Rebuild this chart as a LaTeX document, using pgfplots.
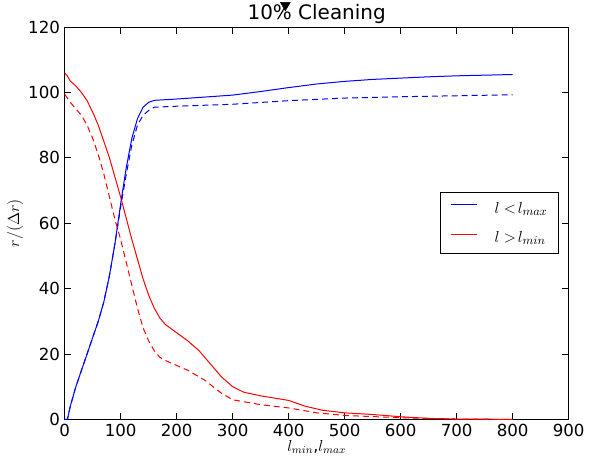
\documentclass[border=0pt]{standalone}
\usepackage{fontspec}
\setmainfont{DejaVu Sans}
\usepackage{pgfplots}
\pgfplotsset{compat=1.18}
\definecolor{myred}{RGB}{255,0,0}
\definecolor{myblue}{RGB}{0,0,255}
\begin{document}
\begin{tikzpicture}
\begin{axis}[
  scale only axis,
  width=378.75pt, height=294.75pt,
  xmin=0, xmax=900, ymin=0, ymax=120,
  xtick={0,100,...,900}, ytick={0,20,...,120},
  tick align=inside, tick pos=both,
  major tick length=5pt,
  tick style={black, line width=0.6pt},
  axis line style={line width=0.7pt},
  /pgf/number format/assume math mode=true,
  ticklabel style={font=\fontsize{12.5}{14}\selectfont},
  title={10\% Cleaning},
  title style={font=\fontsize{15}{17}\selectfont, at={(0.5,1)}, anchor=south, yshift=-7pt},
  xlabel={$l_{min}$,$l_{max}$},
  ylabel={$r/(\Delta r)$},
  label style={font=\fontsize{12}{14}\selectfont},
  xlabel style={yshift=4pt},
  ylabel style={yshift=-3pt},
  clip=false,
  legend style={at={(0.98,0.5)}, anchor=east, line width=0.6pt,
    font=\fontsize{13}{15}\selectfont, row sep=8pt, inner xsep=2pt, inner ysep=5pt,
    nodes={inner xsep=6pt}},
  legend cell align=left,
]
\addlegendimage{empty legend}
\addlegendentry{\textcolor{myblue}{\rule[0.45em]{20pt}{0.75pt}}\hspace{13pt}$l<\!l_{max}$}
\addlegendimage{empty legend}
\addlegendentry{\textcolor{myred}{\rule[0.45em]{20pt}{0.75pt}}\hspace{13pt}$l>\!l_{min}$}
\addplot[myblue, line width=0.75pt, forget plot] coordinates {
(0,0)(5,0)(10,4)(20,10)(30,15)(40,20)(50,25)(60,30)(70,36)(80,44)(90,54)(100,66)(110,77)(120,86)(130,92)(140,95.5)(150,97)(160,97.6)(180,97.8)(200,98)(250,98.6)(300,99.2)(350,100.3)(400,101.5)(450,102.6)(500,103.4)(550,104)(600,104.4)(650,104.8)(700,105.1)(750,105.3)(800,105.5)
};
\addplot[myred, line width=0.75pt, forget plot] coordinates {
(0,106)(5,105)(10,103.5)(20,102)(30,100)(40,97.5)(50,94)(60,90)(70,85)(80,80)(90,74)(100,68)(110,61.5)(120,55)(130,49)(140,43)(150,38)(160,34)(170,31)(180,29)(200,26.5)(220,24)(240,21)(260,17)(280,13)(300,10)(320,8.3)(350,7.2)(400,5.8)(430,4)(460,2.8)(500,2)(550,1.5)(600,0.8)(650,0.3)(700,0.1)(800,0)
};
\addplot[myblue, line width=0.75pt, dash pattern=on 4.5pt off 3pt, forget plot] coordinates {
(0,0)(5,0)(10,4)(20,10)(30,15)(40,20)(50,25)(60,30)(70,36)(80,44)(90,54)(100,65)(110,75)(120,84)(130,90)(140,93)(150,94.5)(160,95.5)(200,95.8)(300,96.4)(400,97.5)(500,98.3)(600,98.7)(700,99)(800,99.3)
};
\addplot[myred, line width=0.75pt, dash pattern=on 4.5pt off 3pt, forget plot] coordinates {
(0,99.5)(10,97)(20,95)(30,93)(40,90)(50,86)(60,81)(70,75)(80,68)(90,61)(100,55)(110,48)(120,41)(130,34)(140,28)(150,24)(160,21)(170,19)(180,18)(200,16.5)(220,15)(250,12)(280,8)(300,6)(350,4.5)(400,3.5)(450,2)(500,1.2)(600,0.5)(700,0.1)(800,0)
};
\addplot[black, only marks, mark=triangle*, mark size=4.2pt, mark options={rotate=180}, forget plot] coordinates {(394,126.7)};
\end{axis}
\path ([xshift=-2pt]current bounding box.west);
\end{tikzpicture}
\end{document}
